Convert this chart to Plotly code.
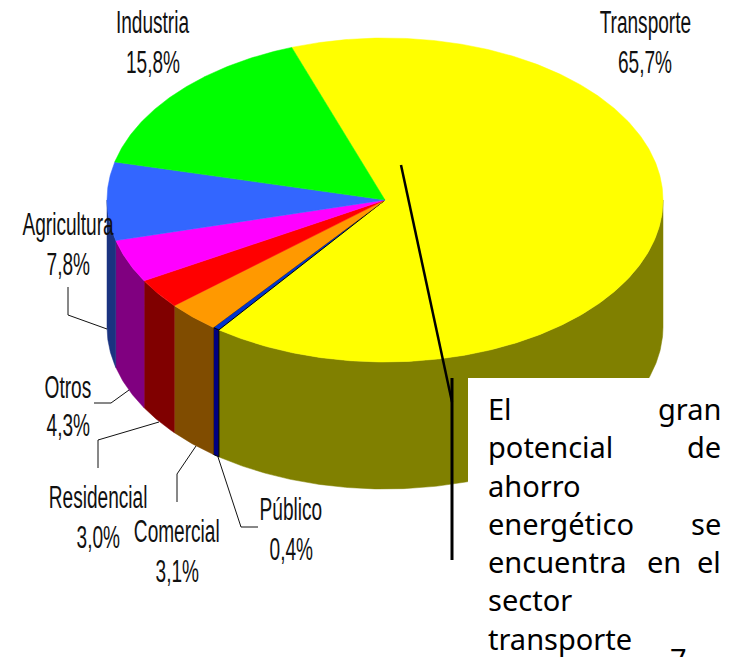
import math
import plotly.graph_objects as go

sectors = ["Transporte", "Público", "Comercial", "Residencial", "Otros", "Agricultura", "Industria"]
values = [65.7, 0.4, 3.1, 3.0, 4.3, 7.8, 15.8]
top_colors = ["#ffff00", "#0033cc", "#ff9900", "#ff0000", "#ff00ff", "#3366ff", "#00ff00"]
side_colors = ["#808000", "#000080", "#804c00", "#800000", "#800080", "#1a3380", "#008000"]
label_x = [645, 291, 177, 98, 68, 68, 153]
label_y = [22, 509, 531, 497, 387, 224, 22]
pct_y = [62, 549, 571, 537, 425, 264, 62]

CX, CY, RX, RY, DEPTH = 385, 200, 278, 162, 127
START = -19.6
LABEL_FONT = "Liberation Sans"
BOX_FONT = "Noto Sans"


def arc(a0, a1, dy=0):
    n = max(2, int(abs(a1 - a0) * 2) + 1)
    xs, ys = [], []
    for i in range(n):
        a = math.radians(a0 + (a1 - a0) * i / (n - 1))
        xs.append(CX + RX * math.sin(a))
        ys.append(CY - RY * math.cos(a) + dy)
    return xs, ys


total = sum(values)
spans = []
a = START
for v in values:
    b = a + v / total * 360
    spans.append((a, b))
    a = b

fig = go.Figure()

# side walls (only the front half of the cylinder)
for (a0, a1), col, name in zip(spans, side_colors, sectors):
    lo, hi = max(a0, 90), min(a1, 270)
    if hi <= lo:
        continue
    xt, yt = arc(lo, hi)
    xb, yb = arc(hi, lo, DEPTH)
    thin = name == "Público"
    fig.add_trace(go.Scatter(x=xt + xb + xt[:1], y=yt + yb + yt[:1], mode="lines", fill="toself",
                             fillcolor=col, line=dict(color="black" if thin else col, width=1 if thin else 0.5),
                             hoverinfo="skip", showlegend=False))

# top face
for (a0, a1), col, name in zip(spans, top_colors, sectors):
    xs, ys = arc(a0, a1)
    thin = name == "Público"
    fig.add_trace(go.Scatter(x=[CX] + xs + [CX], y=[CY] + ys + [CY], mode="lines", fill="toself",
                             fillcolor=col, line=dict(color="black" if thin else col, width=1 if thin else 0.5),
                             hoverinfo="skip", showlegend=False))

shapes = [
    dict(type="rect", x0=468, x1=736, y0=378, y1=657, fillcolor="white", line=dict(width=0), layer="above"),
    dict(type="path", path="M 401 165 L 452 402", line=dict(color="black", width=2.5), layer="above"),
    dict(type="line", x0=452, x1=452, y0=378, y1=560, line=dict(color="black", width=3), layer="above"),
]
leaders = [
    "M 218 457 L 241 527 L 258 527",
    "M 196 446 L 177 474 L 177 502",
    "M 159 422 L 98 440 L 98 468",
    "M 129 390 L 111 403 L 94 403",
    "M 107 329 L 68 315 L 68 287",
]
for p in leaders:
    shapes.append(dict(type="path", path=p, line=dict(color="#111111", width=1), layer="above"))

annotations = []
for name, v, x, y, py in zip(sectors, values, label_x, label_y, pct_y):
    annotations.append(dict(x=x, y=y, text=name, showarrow=False, xanchor="center", yanchor="middle",
                            font=dict(family=LABEL_FONT, size=31, color="#111111")))
    annotations.append(dict(x=x, y=py, text=f"{v:.1f}%".replace(".", ","), showarrow=False,
                            xanchor="center", yanchor="middle",
                            font=dict(family=LABEL_FONT, size=31, color="#111111")))

box_lines = [
    (408, [("El", 486, "left"), ("gran", 723, "right")]),
    (446, [("potencial", 486, "left"), ("de", 723, "right")]),
    (485, [("ahorro", 486, "left")]),
    (523, [("energético", 486, "left"), ("se", 723, "right")]),
    (561, [("encuentra", 486, "left"), ("en", 645, "left"), ("el", 723, "right")]),
    (599, [("sector", 486, "left")]),
    (638, [("transporte", 486, "left")]),
]
for y, words in box_lines:
    for w, x, anc in words:
        annotations.append(dict(x=x, y=y, text=w, showarrow=False, xanchor=anc, yanchor="middle",
                                font=dict(family=BOX_FONT, size=29, color="black")))
annotations.append(dict(x=678, y=656, yshift=-2, text="7", showarrow=False, xanchor="center", yanchor="middle",
                        font=dict(family=BOX_FONT, size=29, color="black")))

fig.update_layout(
    width=736, height=657, margin=dict(l=0, r=0, t=0, b=0),
    paper_bgcolor="white", plot_bgcolor="white", showlegend=False,
    xaxis=dict(range=[0, 736], visible=False, fixedrange=True),
    yaxis=dict(range=[657, 0], visible=False, fixedrange=True),
    shapes=shapes, annotations=annotations,
)
post = """
document.body.style.margin='0';
document.documentElement.style.overflow='hidden';
document.querySelectorAll('.annotation-text').forEach(function(t){
  if ((t.style.fontFamily||'').indexOf('Liberation') >= 0) {
    var w = t.getComputedTextLength();
    t.setAttribute('textLength', w*0.615);
    t.setAttribute('lengthAdjust', 'spacingAndGlyphs');
  }
});
"""
fig.write_html("out.html", config={"displayModeBar": False}, post_script=post)
